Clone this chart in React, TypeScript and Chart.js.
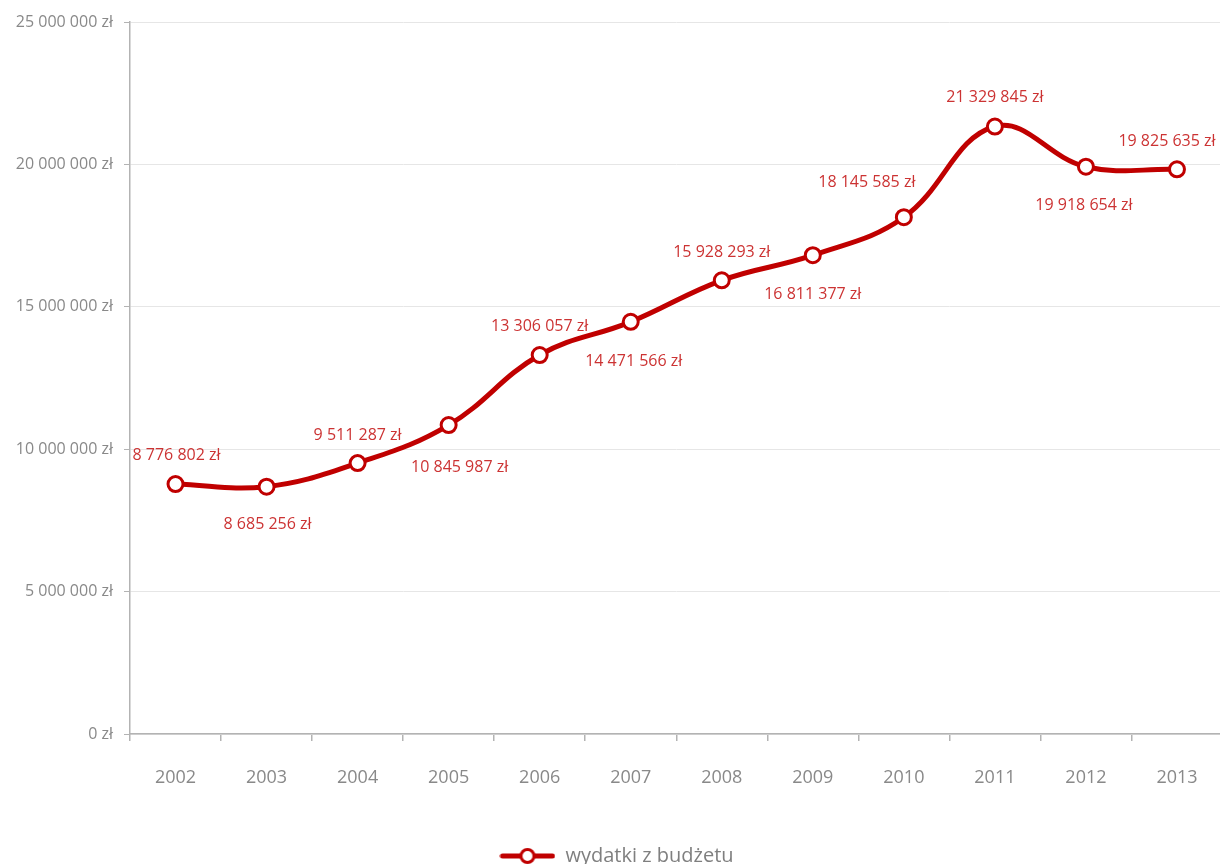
import React, { useEffect, useRef } from "react";
import { Chart, registerables } from "chart.js";

Chart.register(...registerables);

const years = ["2002", "2003", "2004", "2005", "2006", "2007", "2008", "2009", "2010", "2011", "2012", "2013"];
const expenses = [8776802, 8685256, 9511287, 10845987, 13306057, 14471566, 15928293, 16811377, 18145585, 21329845, 19918654, 19825635];
const seriesName = "wydatki z budżetu";
const yTicks = [0, 5000000, 10000000, 15000000, 20000000, 25000000];

// label placement (style): offsets in px relative to the point
const labelOffsets: [number, number][] = [
  [1, -29], [1, 38], [0, -28], [11, 42], [0, -29], [3, 40],
  [0, -28], [0, 39], [-37, -35], [0, -29], [-2, 39], [-10, -28],
];

const RED = "#C00000";
const LABEL_RED = "#CC3333";
const GRAY = "#898989";
const FONT = "'Open Sans', 'Noto Sans', sans-serif";

const fmt = (v: number) => String(Math.round(v)).replace(/\B(?=(\d{3})+(?!\d))/g, " ") + " zł";

function legendIcon(): HTMLCanvasElement {
  const c = document.createElement("canvas");
  c.width = 56;
  c.height = 22;
  const ctx = c.getContext("2d")!;
  ctx.strokeStyle = RED;
  ctx.lineWidth = 5;
  ctx.lineCap = "round";
  ctx.beginPath();
  ctx.moveTo(3, 11);
  ctx.lineTo(53, 11);
  ctx.stroke();
  ctx.beginPath();
  ctx.arc(28, 11, 6.5, 0, Math.PI * 2);
  ctx.fillStyle = "#ffffff";
  ctx.fill();
  ctx.lineWidth = 3;
  ctx.stroke();
  return c;
}

const dataLabelPlugin = {
  id: "dataLabels",
  afterDatasetsDraw(chart: any) {
    const meta = chart.getDatasetMeta(0);
    const ctx = chart.ctx;
    ctx.save();
    ctx.font = `16px ${FONT}`;
    ctx.fillStyle = LABEL_RED;
    ctx.textAlign = "center";
    ctx.textBaseline = "middle";
    meta.data.forEach((pt: any, i: number) => {
      const [dx, dy] = labelOffsets[i] || [0, -30];
      ctx.fillText(fmt(expenses[i]), pt.x + dx, pt.y + dy);
    });
    ctx.restore();
  },
};

export default function App() {
  const ref = useRef<HTMLCanvasElement>(null);
  useEffect(() => {
    if (!ref.current) return;
    const chart = new Chart(ref.current, {
      type: "line",
      data: {
        labels: years,
        datasets: [
          {
            label: seriesName,
            data: expenses,
            borderColor: RED,
            borderWidth: 5,
            tension: 0.4,
            pointRadius: 7.5,
            pointBorderWidth: 3,
            pointBackgroundColor: "#ffffff",
            pointBorderColor: RED,
            fill: false,
          },
        ],
      },
      options: {
        responsive: false,
        animation: false,
        events: [],
        layout: { padding: { top: 22, left: 0, right: 0, bottom: 0 } },
        plugins: {
          tooltip: { enabled: false },
          legend: {
            position: "bottom",
            labels: {
              usePointStyle: true,
              pointStyle: legendIcon() as any,
              pointStyleWidth: 56,
              padding: 10,
              color: "#7f7f7f",
              font: { family: FONT, size: 20 },
            },
          },
        },
        scales: {
          x: {
            offset: true,
            grid: {
              offset: true,
              drawOnChartArea: false,
              drawTicks: true,
              tickLength: 7,
              color: "#b3b3b3",
              lineWidth: 1.5,
            },
            border: { color: "#b3b3b3", width: 1.5 },
            ticks: {
              color: GRAY,
              padding: 26,
              font: { family: FONT, size: 18 },
              maxRotation: 0,
            },
            afterFit: (s: any) => {
              s.height = 102;
            },
          },
          y: {
            min: 0,
            max: 25000000,
            afterBuildTicks: (s: any) => {
              s.ticks = yTicks.map((v) => ({ value: v }));
            },
            grid: {
              color: "#e6e6e6",
              tickColor: "#b3b3b3",
              tickLength: 6,
              lineWidth: 1,
            },
            border: { color: "#b3b3b3", width: 1.5 },
            ticks: {
              color: GRAY,
              padding: 11,
              font: { family: FONT, size: 16 },
              callback: (v: any) => fmt(Number(v)),
            },
            afterFit: (s: any) => {
              s.width = 130;
            },
          },
        },
      },
      plugins: [dataLabelPlugin],
    });
    return () => chart.destroy();
  }, []);
  return (
    <div style={{ position: "fixed", top: 0, left: 0, width: 1220, height: 864, overflow: "hidden", background: "#fff" }}>
      <canvas ref={ref} width={1233} height={876} style={{ display: "block", width: 1233, height: 876 }} />
    </div>
  );
}
